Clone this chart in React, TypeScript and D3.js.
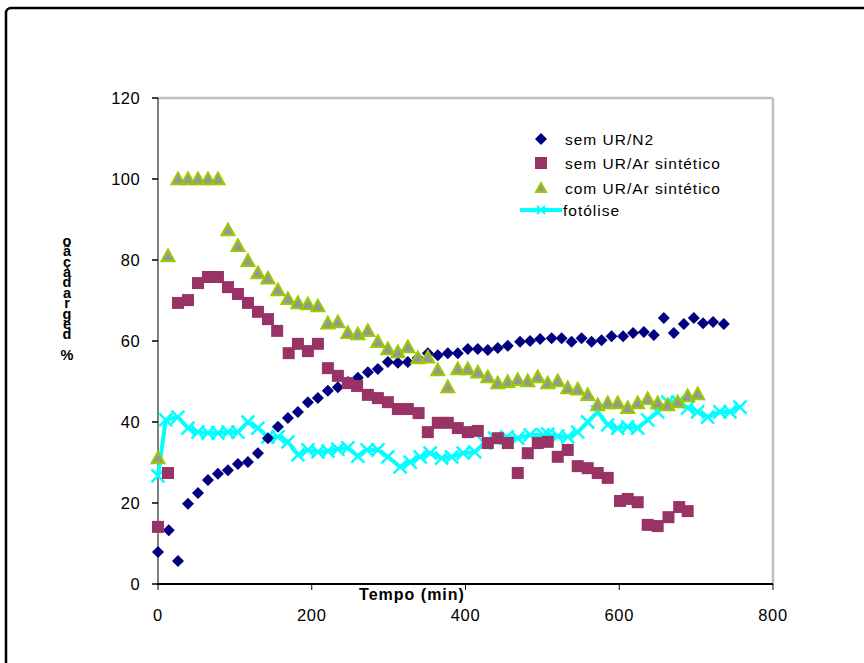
import React from 'react'
import * as d3 from 'd3'

// sem UR/N2
const n2X = [0, 14, 26, 39, 52, 65, 78, 91, 104, 117, 130, 143, 156, 169, 182, 195, 208, 221, 234, 247, 260, 273, 286, 299, 312, 325, 338, 351, 364, 377, 390, 403, 416, 429, 442, 455, 471, 484, 497, 512, 525, 538, 551, 564, 577, 590, 605, 618, 632, 645, 658, 671, 684, 697, 709, 722, 736]
const n2Y = [7.9, 13.3, 5.7, 19.8, 22.5, 25.7, 27.2, 28.1, 29.6, 30.1, 32.3, 36, 38.8, 41, 42.5, 44.9, 45.9, 47.7, 48.6, 49.9, 50.9, 52.3, 53.1, 54.8, 54.6, 54.8, 55.8, 57, 56.5, 57, 57, 58, 58, 57.8, 58.3, 58.8, 59.8, 60, 60.5, 60.7, 60.7, 59.8, 60.7, 59.8, 60.2, 61.2, 61.2, 62, 62.2, 61.5, 65.7, 62, 64.2, 65.7, 64.4, 64.7, 64.2]

// sem UR/Ar sintético
const arX = [0, 13, 26, 39, 52, 65, 78, 91, 104, 117, 130, 143, 155, 170, 182, 195, 208, 221, 234, 247, 259, 273, 286, 299, 312, 325, 339, 351, 364, 377, 390, 403, 416, 429, 442, 455, 468, 481, 494, 507, 520, 533, 546, 559, 572, 585, 601, 611, 624, 637, 650, 664, 678, 689]
const arY = [14.1, 27.4, 69.4, 70.1, 74.3, 75.8, 75.8, 73.3, 71.6, 69.4, 67.2, 65.4, 62.5, 57, 59.3, 57.5, 59.3, 53.3, 51.4, 49.6, 48.9, 46.7, 45.9, 44.9, 43.2, 43.2, 42.2, 37.5, 39.8, 39.8, 38.5, 37.5, 37.8, 34.8, 36, 34.8, 27.4, 32.3, 34.8, 35.1, 31.4, 33.1, 29.1, 28.6, 27.4, 26.2, 20.5, 21, 20.2, 14.6, 14.3, 16.5, 19, 18]

// com UR/Ar sintético
const urX = [0, 13, 26, 39, 52, 65, 78, 91, 104, 117, 130, 143, 156, 169, 182, 195, 208, 221, 234, 247, 260, 273, 286, 299, 312, 325, 338, 351, 364, 377, 390, 403, 416, 429, 442, 455, 468, 481, 494, 507, 520, 533, 546, 559, 572, 585, 598, 611, 624, 637, 650, 663, 676, 689, 702]
const urY = [31.1, 81, 100, 100, 100, 100, 100, 87.4, 83.5, 79.8, 76.8, 75.5, 72.6, 70.4, 69.4, 69.1, 68.6, 64.4, 64.7, 62, 61.7, 62.5, 59.8, 58, 57.3, 58.5, 55.8, 56, 52.8, 48.6, 53.1, 53.1, 52.3, 51.1, 49.6, 49.9, 50.4, 50.1, 51.1, 49.6, 50.1, 48.4, 48.1, 46.7, 44.2, 44.7, 44.7, 43.5, 44.7, 45.7, 44.7, 44.2, 44.9, 46.4, 46.9]

// fotólise
const fotX = [0, 10, 26, 39, 52, 65, 78, 91, 104, 117, 130, 143, 156, 169, 182, 195, 208, 221, 234, 247, 260, 272, 286, 299, 315, 328, 341, 354, 369, 382, 397, 412, 425, 438, 454, 468, 484, 501, 507, 520, 533, 546, 559, 572, 585, 598, 611, 624, 637, 650, 663, 676, 689, 702, 715, 731, 744, 757]
const fotY = [26.7, 40.5, 41.2, 38.5, 37.5, 37.3, 37.3, 37.5, 37.5, 40, 38.5, 36.3, 36.3, 35.1, 31.9, 33.1, 32.6, 32.8, 33.3, 33.6, 31.6, 33.1, 33.1, 31.4, 28.9, 30.1, 31.4, 32.3, 31.1, 31.4, 32.3, 32.6, 34.8, 36, 36.3, 36, 36.8, 36.8, 37, 36.5, 36.3, 37.5, 40, 42.5, 39.3, 38.5, 38.8, 38.5, 40.5, 42.5, 44.9, 44.9, 43.5, 42.5, 41.2, 42.5, 42.5, 43.7]

const xTicks = [0, 200, 400, 600, 800]
const yTicks = [0, 20, 40, 60, 80, 100, 120]
const legendLabels = ['sem UR/N2', 'sem UR/Ar sintético', 'com UR/Ar sintético', 'fotólise']
const xTitle = 'Tempo (min)'
const yTitle = '% degradação'

const W = 864
const H = 663
const margin = { left: 158, top: 98, right: 91, bottom: 79 }

const font = 'Liberation Sans, Arial, sans-serif'

export default function App() {
  const x = d3.scaleLinear().domain([0, 800]).range([margin.left, W - margin.right])
  const y = d3.scaleLinear().domain([0, 120]).range([H - margin.bottom, margin.top])
  const x0 = x(0), x1 = x(800), y0 = y(0), y1 = y(120)

  const fotPts: [number, number][] = fotX.map((v, i) => [x(v), y(fotY[i])])
  const line = d3.line()
  const diamond = (s: number) => `M0,${-s}L${s},0L0,${s}L${-s},0Z`
  const cross = (s: number) => `M${-s},${-s}L${s},${s}M${-s},${s}L${s},${-s}`
  const tri = (s: number) => `M0,${-s}L${s},${s * 0.8}L${-s},${s * 0.8}Z`

  const legY = [139, 163, 188, 210]
  // value axis title: upright glyphs stacked, read bottom to top
  const yStacked = Array.from(yTitle).reverse().join('')

  return (
    <svg width={W} height={H} style={{ position: 'absolute', left: 0, top: 0, background: '#fff' }}>
      <rect x={6} y={8} width={1000} height={800} rx={5} fill="#fff" stroke="#000" strokeWidth={2.5} />

      {/* plot frame */}
      <line x1={x0} x2={x1} y1={y1} y2={y1} stroke="#c0c0c0" strokeWidth={2.5} />
      <line x1={x1} x2={x1} y1={y1} y2={y0} stroke="#c0c0c0" strokeWidth={2.5} />
      <line x1={x0} x2={x0} y1={y1} y2={y0} stroke="#000" strokeWidth={1} />
      <line x1={x0 - 1} x2={x1} y1={y0} y2={y0} stroke="#000" strokeWidth={2} />

      {yTicks.map(t => (
        <g key={'y' + t}>
          <line x1={x0 - 6} x2={x0} y1={y(t)} y2={y(t)} stroke="#000" strokeWidth={1.5} />
          <text x={x0 - 18} y={y(t)} dy="0.36em" textAnchor="end" fontFamily={font} fontSize={16.5} letterSpacing={0.4}>{t}</text>
        </g>
      ))}
      {xTicks.map(t => (
        <g key={'x' + t}>
          <line x1={x(t)} x2={x(t)} y1={y0} y2={y0 + 6} stroke="#000" strokeWidth={1} />
          <text x={x(t)} y={y0 + 37} textAnchor="middle" fontFamily={font} fontSize={16.5} letterSpacing={0.6}>{t}</text>
        </g>
      ))}

      <text x={412} y={600} textAnchor="middle" fontFamily={font} fontSize={16} fontWeight="bold" letterSpacing={1}>{xTitle}</text>
      <text x={67} y={233} fontFamily={font} fontSize={14.5} fontWeight="bold"
        textLength={130} lengthAdjust="spacing"
        style={{ writingMode: 'vertical-rl', textOrientation: 'upright' }}>{yStacked}</text>

      {/* fotólise */}
      <path d={line(fotPts) || ''} fill="none" stroke="#00ffff" strokeWidth={4} strokeLinejoin="round" />
      {fotPts.map((p, i) => (
        <path key={'f' + i} d={cross(6.5)} transform={`translate(${p[0]},${p[1]})`} stroke="#00ffff" strokeWidth={2.5} fill="none" />
      ))}

      {n2X.map((v, i) => (
        <path key={'n' + i} d={diamond(6)} transform={`translate(${x(v)},${y(n2Y[i])})`} fill="#000080" />
      ))}
      {arX.map((v, i) => (
        <rect key={'a' + i} x={x(v) - 6} y={y(arY[i]) - 6} width={12} height={12} fill="#993366" />
      ))}
      {urX.map((v, i) => (
        <path key={'u' + i} d={tri(6.5)} transform={`translate(${x(v)},${y(urY[i])})`} fill="#969696" stroke="#99cc00" strokeWidth={2} strokeLinejoin="miter" />
      ))}

      {/* legend */}
      <path d={diamond(6)} transform={`translate(541,${legY[0]})`} fill="#000080" />
      <rect x={535} y={legY[1] - 6} width={12} height={12} fill="#993366" />
      <path d={tri(5)} transform={`translate(541,${legY[2]})`} fill="#969696" stroke="#99cc00" strokeWidth={2} />
      <line x1={520} x2={562} y1={legY[3]} y2={legY[3]} stroke="#00ffff" strokeWidth={4} />
      <path d={cross(4)} transform={`translate(541,${legY[3]})`} stroke="#00ffff" strokeWidth={2} />
      {legendLabels.map((l, i) => (
        <text key={l} x={i === 3 ? 563 : 565} y={legY[i]} dy="0.36em" fontFamily={font} fontSize={15.5} letterSpacing={1}>{l}</text>
      ))}
    </svg>
  )
}
